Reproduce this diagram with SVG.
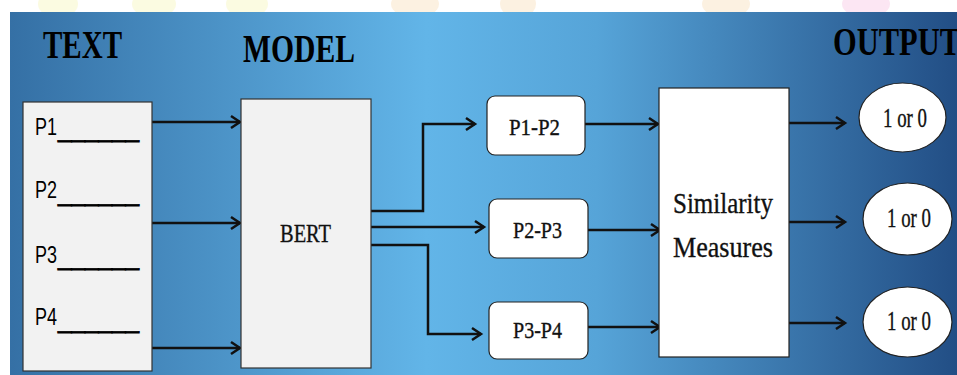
<svg xmlns="http://www.w3.org/2000/svg" width="957" height="375" viewBox="0 0 957 375">
<defs>
<linearGradient id="bg" gradientUnits="userSpaceOnUse" x1="10" y1="0" x2="957" y2="0">
<stop offset="0" stop-color="#3570a5"/>
<stop offset="0.44" stop-color="#62b5e8"/>
<stop offset="0.62" stop-color="#56a4d8"/>
<stop offset="1" stop-color="#224e85"/>
</linearGradient>
<clipPath id="top"><rect x="0" y="0" width="957" height="12"/></clipPath>
<marker id="ah" markerUnits="userSpaceOnUse" markerWidth="14" markerHeight="16" refX="11" refY="7" orient="auto" overflow="visible">
<path d="M2,1 L11,7 L2,13" fill="none" stroke="#111" stroke-width="2.5" stroke-linejoin="miter"/>
</marker>
</defs>
<style>
.hd{font-family:"Liberation Serif","Times New Roman",serif;font-weight:bold;font-size:39px;fill:#000}
.p{font-family:"Liberation Sans",Arial,sans-serif;font-size:24px;fill:#000}
.u{stroke:#000;stroke-width:0.8}
.s{font-family:"Liberation Serif","Times New Roman",serif;fill:#111;stroke:#111;stroke-width:0.35}
.box{fill:#f2f2f2;stroke:#333;stroke-width:1.2}
.wbox{fill:#fff;stroke:#222;stroke-width:1.2}
.conn{fill:none;stroke:#111;stroke-width:2.5;marker-end:url(#ah)}
</style>
<rect x="0" y="0" width="957" height="375" fill="#fff"/>
<g clip-path="url(#top)" opacity="0.25">
<ellipse cx="58" cy="4" rx="20" ry="14" fill="#f3f08a"/>
<ellipse cx="154" cy="4" rx="22" ry="14" fill="#f3f08a"/>
<ellipse cx="247" cy="4" rx="21" ry="14" fill="#f3f08a"/>
<ellipse cx="415" cy="4" rx="24" ry="14" fill="#f7c98a"/>
<ellipse cx="518" cy="4" rx="18" ry="14" fill="#f7c98a"/>
<ellipse cx="726" cy="4" rx="24" ry="14" fill="#f7c98a"/>
<ellipse cx="866" cy="4" rx="24" ry="14" fill="#f59ad0"/>
</g>
<rect x="10" y="12" width="947" height="363" fill="url(#bg)"/>

<text class="hd" x="43" y="58" textLength="79" lengthAdjust="spacingAndGlyphs">TEXT</text>
<text class="hd" x="243" y="62" textLength="112" lengthAdjust="spacingAndGlyphs">MODEL</text>
<text class="hd" x="833" y="55" textLength="127" lengthAdjust="spacingAndGlyphs">OUTPUT</text>

<g id="connectors">
<line class="conn" x1="152" y1="122" x2="240" y2="122"/>
<line class="conn" x1="152" y1="223" x2="240" y2="223"/>
<line class="conn" x1="152" y1="348" x2="240" y2="348"/>
<polyline class="conn" points="371,211 423,211 423,124 475,124"/>
<line class="conn" x1="371" y1="227" x2="484" y2="227"/>
<polyline class="conn" points="371,245 428,245 428,334 481,334"/>
<line class="conn" x1="585" y1="124" x2="658" y2="124"/>
<line class="conn" x1="588" y1="230" x2="660" y2="230"/>
<line class="conn" x1="588" y1="327" x2="660" y2="327"/>
<line class="conn" x1="789" y1="123" x2="845" y2="123"/>
<line class="conn" x1="789" y1="222" x2="845" y2="222"/>
<line class="conn" x1="789" y1="323" x2="845" y2="323"/>
</g>

<g id="text-box">
<rect class="box" x="23" y="102" width="129" height="269"/>
<text class="p" x="35" y="135"><tspan textLength="22" lengthAdjust="spacingAndGlyphs">P1</tspan><tspan class="u" x="58" dy="2" textLength="81" lengthAdjust="spacingAndGlyphs">______</tspan></text>
<text class="p" x="35" y="198"><tspan textLength="22" lengthAdjust="spacingAndGlyphs">P2</tspan><tspan class="u" x="58" dy="3" textLength="81" lengthAdjust="spacingAndGlyphs">______</tspan></text>
<text class="p" x="35" y="263"><tspan textLength="22" lengthAdjust="spacingAndGlyphs">P3</tspan><tspan class="u" x="58" dy="2" textLength="81" lengthAdjust="spacingAndGlyphs">______</tspan></text>
<text class="p" x="35" y="325"><tspan textLength="22" lengthAdjust="spacingAndGlyphs">P4</tspan><tspan class="u" x="58" dy="3" textLength="81" lengthAdjust="spacingAndGlyphs">______</tspan></text>
</g>

<g id="bert">
<rect class="box" x="241" y="99" width="130" height="269"/>
<text class="s" x="280" y="242" font-size="26" textLength="51" lengthAdjust="spacingAndGlyphs">BERT</text>
</g>

<g id="p1p2">
<rect class="wbox" x="487" y="96" width="98" height="59" rx="8"/>
<text class="s" x="509" y="135" font-size="24" textLength="51" lengthAdjust="spacingAndGlyphs">P1-P2</text>
</g>
<g id="p2p3">
<rect class="wbox" x="489" y="199" width="99" height="59" rx="8"/>
<text class="s" x="513" y="238" font-size="24" textLength="49" lengthAdjust="spacingAndGlyphs">P2-P3</text>
</g>
<g id="p3p4">
<rect class="wbox" x="489" y="302" width="99" height="57" rx="8"/>
<text class="s" x="513" y="338" font-size="24" textLength="49" lengthAdjust="spacingAndGlyphs">P3-P4</text>
</g>

<g id="similarity">
<rect class="wbox" x="659" y="88" width="130" height="269"/>
<text class="s" x="673" y="213" font-size="30" textLength="100" lengthAdjust="spacingAndGlyphs">Similarity</text>
<text class="s" x="673" y="257" font-size="30" textLength="100" lengthAdjust="spacingAndGlyphs">Measures</text>
</g>

<g id="out1">
<ellipse cx="902.5" cy="117.5" rx="43.5" ry="34.5" fill="#fff" stroke="#222" stroke-width="1.2"/>
<text class="s" x="883" y="127" font-size="27" textLength="44" lengthAdjust="spacingAndGlyphs">1 or 0</text>
</g>
<g id="out2">
<ellipse cx="907.5" cy="219" rx="44.5" ry="36" fill="#fff" stroke="#222" stroke-width="1.2"/>
<text class="s" x="887" y="227" font-size="27" textLength="44" lengthAdjust="spacingAndGlyphs">1 or 0</text>
</g>
<g id="out3">
<ellipse cx="907.5" cy="322" rx="44.5" ry="35" fill="#fff" stroke="#222" stroke-width="1.2"/>
<text class="s" x="887" y="330" font-size="27" textLength="44" lengthAdjust="spacingAndGlyphs">1 or 0</text>
</g>
</svg>
